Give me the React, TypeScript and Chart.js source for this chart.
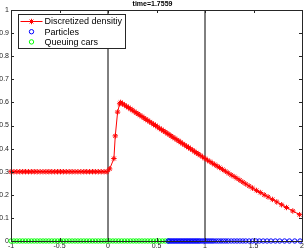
import React, { useEffect, useRef } from "react";
import { Chart, registerables } from "chart.js";

Chart.register(...registerables);

const titleText = "time=1.7559";
const seriesLabels = ["Discretized densitiy", "Particles", "Queuing cars"];
const xTicks = [-1, -0.5, 0, 0.5, 1, 1.5, 2];
const yTicks = [0, 0.1, 0.2, 0.3, 0.4, 0.5, 0.6, 0.7, 0.8, 0.9, 1];
const vlineX = [0, 1];

const densX = [
  -1, -0.97, -0.94, -0.91, -0.88, -0.85, -0.82, -0.79, -0.76, -0.73, -0.7, -0.67,
  -0.64, -0.61, -0.58, -0.55, -0.52, -0.49, -0.46, -0.43, -0.4, -0.37, -0.34, -0.31,
  -0.28, -0.25, -0.22, -0.19, -0.16, -0.13, -0.1, -0.07, -0.04, -0.01,
  0.017, 0.061, 0.075, 0.099, 0.12, 0.13,
  0.15, 0.17, 0.19, 0.21, 0.23, 0.25, 0.27, 0.29, 0.31, 0.33, 0.35, 0.37, 0.39,
  0.41, 0.43, 0.45, 0.47, 0.49, 0.51, 0.53, 0.55, 0.57, 0.59, 0.61, 0.63, 0.65,
  0.67, 0.69, 0.71, 0.73, 0.75, 0.77, 0.79, 0.81, 0.83, 0.85, 0.87, 0.89, 0.91,
  0.93, 0.95, 0.975, 1.0, 1.025, 1.05, 1.075, 1.1, 1.125, 1.15, 1.18, 1.21, 1.24,
  1.27, 1.3, 1.33, 1.36, 1.39, 1.42, 1.455, 1.49, 1.53, 1.57, 1.61, 1.65, 1.695,
  1.74, 1.79, 1.84, 1.905, 1.975,
];
const densY = [
  0.3, 0.3, 0.3, 0.3, 0.3, 0.3, 0.3, 0.3, 0.3, 0.3, 0.3, 0.3,
  0.3, 0.3, 0.3, 0.3, 0.3, 0.3, 0.3, 0.3, 0.3, 0.3, 0.3, 0.3,
  0.3, 0.3, 0.3, 0.3, 0.3, 0.3, 0.3, 0.3, 0.3, 0.3,
  0.312, 0.357, 0.455, 0.558, 0.594, 0.6,
  0.594, 0.589, 0.583, 0.578, 0.572, 0.567, 0.561, 0.555, 0.55, 0.544, 0.539, 0.533, 0.527,
  0.522, 0.516, 0.511, 0.505, 0.5, 0.494, 0.488, 0.483, 0.477, 0.472, 0.466, 0.461, 0.455,
  0.449, 0.444, 0.438, 0.433, 0.427, 0.421, 0.416, 0.41, 0.405, 0.399, 0.394, 0.388, 0.382,
  0.377, 0.371, 0.364, 0.357, 0.35, 0.344, 0.337, 0.331, 0.324, 0.318, 0.31, 0.302, 0.294,
  0.286, 0.279, 0.271, 0.263, 0.255, 0.247, 0.238, 0.229, 0.219, 0.21, 0.2, 0.191, 0.18,
  0.169, 0.157, 0.145, 0.13, 0.114,
];

const particleX = [
  0.62, 0.635, 0.65, 0.665, 0.68, 0.695, 0.71, 0.725, 0.74, 0.755, 0.77, 0.785, 0.8,
  0.815, 0.83, 0.845, 0.86, 0.875, 0.89, 0.905, 0.92, 0.935, 0.95, 0.97, 0.99, 1.01,
  1.03, 1.05, 1.07, 1.09, 1.115, 1.14, 1.165, 1.19, 1.215, 1.24, 1.27, 1.3, 1.33, 1.36,
  1.39, 1.42, 1.455, 1.49, 1.525, 1.56, 1.6, 1.64, 1.68, 1.725, 1.77, 1.82, 1.87, 1.925,
  1.98,
];
const queueX = [
  -1, -0.97, -0.94, -0.91, -0.88, -0.85, -0.82, -0.79, -0.76, -0.73, -0.7, -0.67, -0.64,
  -0.61, -0.58, -0.55, -0.52, -0.49, -0.46, -0.43, -0.4, -0.37, -0.34, -0.31, -0.28,
  -0.25, -0.22, -0.19, -0.16, -0.13, -0.1, -0.07, -0.04, -0.01, 0.02, 0.05, 0.08, 0.11,
  0.14, 0.17, 0.2, 0.23, 0.26, 0.29, 0.32, 0.35, 0.38, 0.41, 0.44, 0.47, 0.5, 0.53, 0.56,
  0.59, 0.62,
];

const FONT = "'Liberation Sans', Arial, Helvetica, sans-serif";

function drawStar(ctx: CanvasRenderingContext2D, x: number, y: number, r: number) {
  ctx.beginPath();
  ctx.moveTo(x - r, y);
  ctx.lineTo(x + r, y);
  ctx.moveTo(x, y - r);
  ctx.lineTo(x, y + r);
  const d = r * Math.SQRT1_2;
  ctx.moveTo(x - d, y - d);
  ctx.lineTo(x + d, y + d);
  ctx.moveTo(x - d, y + d);
  ctx.lineTo(x + d, y - d);
  ctx.stroke();
}

const frameAndLegend = {
  id: "frameAndLegend",
  afterDatasetsDraw(chart: any) {
    const { ctx, chartArea, scales } = chart;
    const { left, right, top, bottom } = chartArea;
    ctx.save();
    ctx.strokeStyle = "#262626";
    ctx.lineWidth = 1;
    ctx.strokeRect(Math.round(left) + 0.5, Math.round(top) + 0.5, Math.round(right - left), Math.round(bottom - top));
    const tl = 3;
    ctx.beginPath();
    for (const v of xTicks) {
      const px = Math.round(scales.x.getPixelForValue(v)) + 0.5;
      ctx.moveTo(px, bottom);
      ctx.lineTo(px, bottom - tl);
      ctx.moveTo(px, top);
      ctx.lineTo(px, top + tl);
    }
    for (const v of yTicks) {
      const py = Math.round(scales.y.getPixelForValue(v)) + 0.5;
      ctx.moveTo(left, py);
      ctx.lineTo(left + tl, py);
      ctx.moveTo(right, py);
      ctx.lineTo(right - tl, py);
    }
    ctx.stroke();

    // legend box
    const bx = Math.round(left) + 7.5;
    const by = Math.round(top) + 4.5;
    const bw = 107;
    const bh = 34;
    ctx.fillStyle = "#ffffff";
    ctx.fillRect(bx, by, bw, bh);
    ctx.strokeStyle = "#262626";
    ctx.strokeRect(bx, by, bw, bh);
    const ds = chart.data.datasets;
    ctx.font = `9px ${FONT}`;
    ctx.textBaseline = "middle";
    ctx.textAlign = "left";
    for (let i = 0; i < 3; i++) {
      const cy = by + 7 + i * 10.2;
      const d = ds[i];
      const mx = bx + 13;
      ctx.strokeStyle = d.pointBorderColor;
      ctx.lineWidth = 1;
      if (i === 0) {
        ctx.beginPath();
        ctx.moveTo(bx + 2, cy);
        ctx.lineTo(bx + 24, cy);
        ctx.stroke();
        drawStar(ctx, mx, cy, 2.7);
      } else {
        ctx.beginPath();
        ctx.arc(mx, cy, 2.2, 0, Math.PI * 2);
        ctx.stroke();
      }
      ctx.fillStyle = "#000000";
      ctx.fillText(d.label, bx + 26, cy + 0.5);
    }
    ctx.restore();
  },
};

export default function App() {
  const ref = useRef<HTMLCanvasElement | null>(null);
  useEffect(() => {
    document.body.style.margin = "0";
    const canvas = ref.current;
    if (!canvas) return;
    const vlineSets = vlineX.map((vx) => ({
      label: "",
      data: [
        { x: vx, y: 0 },
        { x: vx, y: 1 },
      ],
      showLine: true,
      borderColor: "#000000",
      borderWidth: 1,
      pointRadius: 0,
      pointBorderColor: "#000000",
      clip: false,
      order: 5,
    }));
    const chart = new Chart(canvas, {
      type: "scatter",
      data: {
        datasets: [
          {
            label: seriesLabels[0],
            data: densX.map((x, i) => ({ x, y: densY[i] })),
            showLine: true,
            borderColor: "#ff0000",
            borderWidth: 1,
            pointStyle: "star",
            pointRadius: 2.7,
            pointBorderColor: "#ff0000",
            pointBackgroundColor: "#ff0000",
            pointBorderWidth: 1,
            clip: false,
            order: 1,
          },
          {
            label: seriesLabels[1],
            data: particleX.map((x) => ({ x, y: 0 })),
            pointStyle: "circle",
            pointRadius: 2.2,
            pointBorderColor: "#0000ff",
            pointBackgroundColor: "rgba(0,0,0,0)",
            pointBorderWidth: 1,
            clip: false,
            order: 2,
          },
          {
            label: seriesLabels[2],
            data: queueX.map((x) => ({ x, y: 0 })),
            pointStyle: "circle",
            pointRadius: 2.2,
            pointBorderColor: "#00ff00",
            pointBackgroundColor: "rgba(0,0,0,0)",
            pointBorderWidth: 1,
            clip: false,
            order: 3,
          },
          ...vlineSets,
        ] as any,
      },
      options: {
        responsive: false,
        animation: false,
        layout: { padding: { top: 0, right: 2, left: 0, bottom: 0 } },
        plugins: {
          legend: { display: false },
          tooltip: { enabled: false },
          title: {
            display: true,
            text: titleText,
            color: "#000000",
            font: { family: FONT, size: 7, weight: "bold", lineHeight: 1.2 },
            padding: { top: 0, bottom: 1.6 },
          },
        },
        scales: {
          x: {
            type: "linear",
            min: -1,
            max: 2,
            afterBuildTicks: (s: any) => {
              s.ticks = xTicks.map((v) => ({ value: v }));
            },
            afterFit: (s: any) => {
              s.height = 10;
            },
            grid: { display: false, drawTicks: false },
            border: { display: false },
            ticks: {
              autoSkip: false,
              maxRotation: 0,
              padding: 1,
              color: "#262626",
              font: { family: FONT, size: 7 },
              callback: (v: any) => String(Math.round(Number(v) * 10) / 10),
            },
          },
          y: {
            type: "linear",
            min: 0,
            max: 1,
            afterBuildTicks: (s: any) => {
              s.ticks = yTicks.map((v) => ({ value: v }));
            },
            afterFit: (s: any) => {
              s.width = 11;
            },
            grid: { display: false, drawTicks: false },
            border: { display: false },
            ticks: {
              autoSkip: false,
              padding: 2,
              color: "#262626",
              font: { family: FONT, size: 7 },
              callback: (v: any) => String(Math.round(Number(v) * 10) / 10),
            },
          },
        },
      },
      plugins: [frameAndLegend],
    });
    return () => chart.destroy();
  }, []);
  return (
    <div style={{ width: 307, height: 251, background: "#ffffff" }}>
      <canvas ref={ref} width={307} height={251} />
    </div>
  );
}
